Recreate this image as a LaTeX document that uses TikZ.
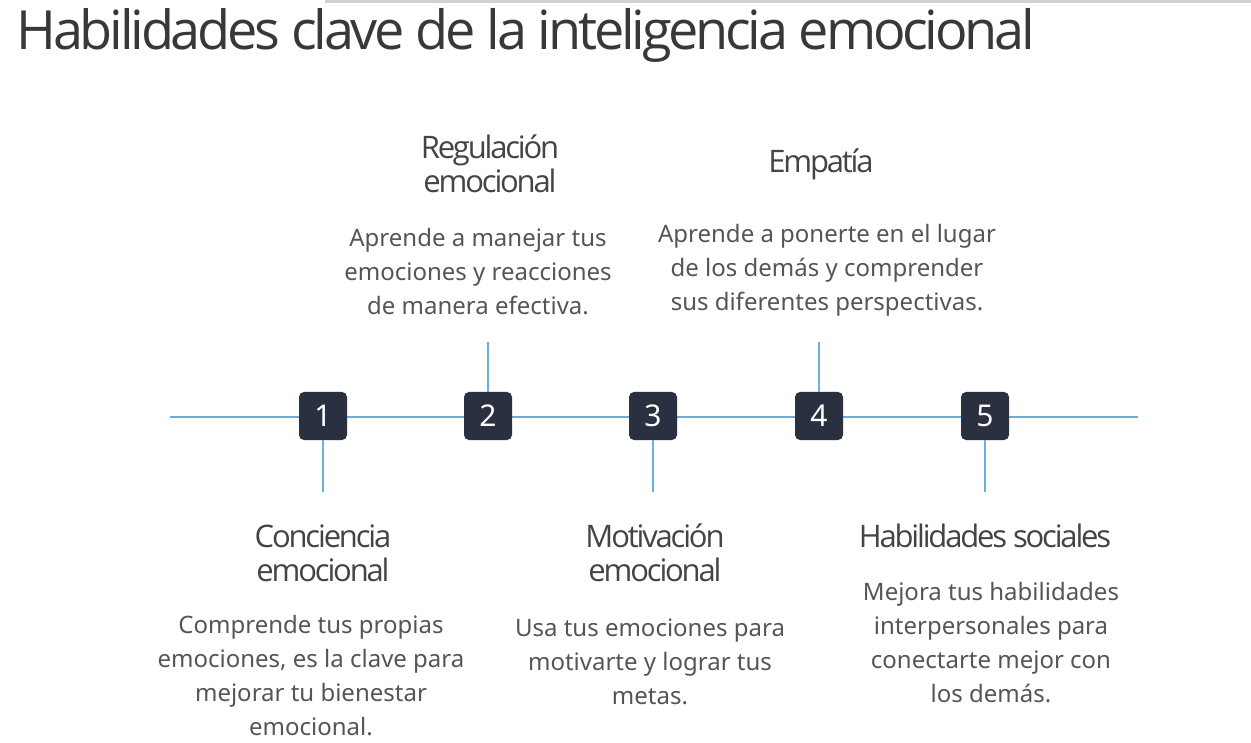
\documentclass[tikz,border=0pt]{standalone}
\usepackage{fontspec}
\setmainfont{Noto Sans}
\newfontfamily\titlefont[LetterSpace=-6]{Open Sans}
\newfontfamily\headfont[LetterSpace=-7]{Open Sans}
\definecolor{boxfill}{HTML}{2B3040}
\definecolor{linecol}{HTML}{6AAEE0}
\definecolor{headcol}{HTML}{444444}
\definecolor{bodycol}{HTML}{555555}
\tikzset{
	numbox/.style={fill=boxfill, text=white, rounded corners=5pt, minimum size=48pt, inner sep=0pt, font=\fontsize{30}{32}\selectfont},
	tline/.style={draw=linecol, line width=1.2pt},
	head/.style={align=center, text=headcol, font=\headfont\fontsize{31}{34}\selectfont},
	body/.style={align=center, text=bodycol, font=\fontsize{24}{34}\selectfont}
}
\begin{document}
\begin{tikzpicture}[x=1pt, y=-1pt]
	\useasboundingbox (0,0) rectangle (1251,743);
	\fill[black!18] (325,0) rectangle (1251,3);
	\node[anchor=west, text=black!78, font=\titlefont\fontsize{54}{60}\selectfont] (title) at (13,35) {Habilidades clave de la inteligencia emocional};
	%Zeitleiste
	\coordinate (lstart) at (170,417);
	\coordinate (lend)   at (1138,417);
	\draw[tline] (lstart) -- (lend);
	\node[numbox] (n1) at (323,416) {1};
	\node[numbox] (n2) at (488,416) {2};
	\node[numbox] (n3) at (653,416) {3};
	\node[numbox] (n4) at (819,416) {4};
	\node[numbox] (n5) at (985,416) {5};
	\coordinate (c1) at (323,492);
	\coordinate (c2) at (488,342);
	\coordinate (c3) at (653,492);
	\coordinate (c4) at (819,342);
	\coordinate (c5) at (985,492);
	\draw[tline, line width=2pt] (n1.south) -- (c1);
	\draw[tline]                 (n2.north) -- (c2);
	\draw[tline, line width=2pt] (n3.south) -- (c3);
	\draw[tline]                 (n4.north) -- (c4);
	\draw[tline, line width=2pt] (n5.south) -- (c5);
	%Texte
	\node[head] (h1) at (323,553) {Conciencia\\emocional};
	\node[head] (h2) at (490,164) {Regulación\\emocional};
	\node[head] (h3) at (655,553) {Motivación\\emocional};
	\node[head] (h4) at (821,164) {Empatía};
	\node[head] (h5) at (985,536) {Habilidades sociales};
	\node[body] (b1) at (311,676) {Comprende tus propias\\emociones, es la clave para\\mejorar tu bienestar\\emocional.};
	\node[body] (b2) at (478,272) {Aprende a manejar tus\\emociones y reacciones\\de manera efectiva.};
	\node[body] (b3) at (650,662) {Usa tus emociones para\\motivarte y lograr tus\\metas.};
	\node[body] (b4) at (827,270) {Aprende a ponerte en el lugar\\de los demás y comprender\\sus diferentes perspectivas.};
	\node[body] (b5) at (991,643) {Mejora tus habilidades\\interpersonales para\\conectarte mejor con\\los demás.};
\end{tikzpicture}
\end{document}
